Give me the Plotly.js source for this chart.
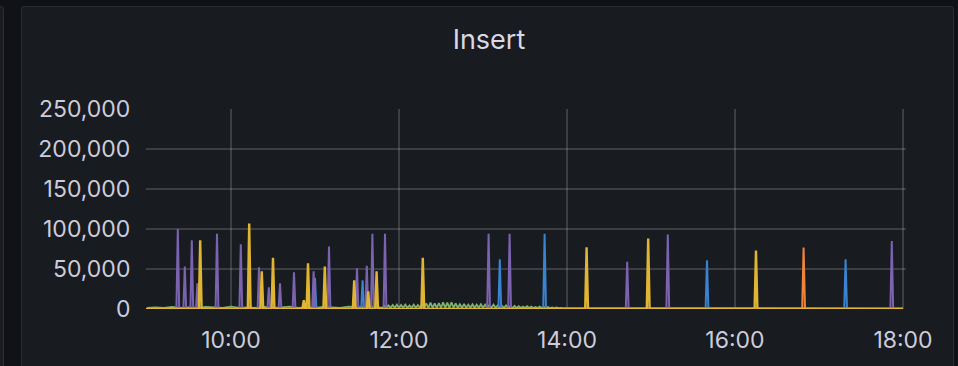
<!DOCTYPE html>
<html>
<head>
<meta charset="utf-8">
<script src="https://cdn.plot.ly/plotly-3.0.1.min.js"></script>
<style>
  html, body { margin: 0; padding: 0; background: #111217; width: 958px; height: 366px; overflow: hidden; }
  .panel { position: absolute; background: #181b1f; border: 1px solid rgba(204,204,220,0.10); border-radius: 4px; }
  #chart { position: absolute; left: 0; top: 0; width: 958px; height: 366px; }
</style>
</head>
<body>
<div class="panel" style="left:-30px; top:6px; width:32px; height:420px;"></div>
<div class="panel" style="left:21px; top:6px; width:931px; height:420px;"></div>
<div id="chart"></div>
<script>
// ---- data ----
const day = "2024-01-01";
const seriesStart = "08:59";
const seriesEnd = "18:00";

const purpleTimes  = ["09:22","09:27","09:32","09:36","09:50","10:07","10:20","10:27","10:35","10:45","10:59","11:10","11:30","11:37","11:41","11:50","13:04","13:19","14:43","15:12","17:52"];
const purpleValues = [100000, 53000, 86000, 32000, 94000, 81000, 52000, 27000, 32000, 46000, 47000, 78000, 51000, 54000, 94000, 94000, 94000, 94000, 59000, 93000, 85000];

const yellowTimes  = ["09:38","10:13","10:22","10:30","10:52","10:55","11:07","11:28","11:38","11:44","12:17","14:14","14:58","16:15"];
const yellowValues = [86000, 107000, 47000, 64000, 11000, 57000, 53000, 36000, 22000, 47000, 64000, 77000, 88000, 73000];

const blueTimes  = ["11:00","11:34","13:12","13:44","15:40","17:19"];
const blueValues = [39000, 36000, 62000, 94000, 61000, 62000];

const orangeTimes  = ["16:49"];
const orangeValues = [77000];

// green: low background series
const greenEarlyStart = "09:00";   // 6-minute samples
const greenEarlyValues = [1500,2000,1500,2500,1500,2000,1500,2500,2000,1500,3000,1500,2000,1500,2500,1500,2000,3000,1500,2000,1500,2500,2000,1500,3000,2000,2500,3000];
const greenMidStart = "11:48";     // 90-second samples
const greenMidValues = [
  1500,4000,1500,4500,1500,5000,1500,5500,1500,5000,1500,5500,1500,4500,1500,5500,1500,5000,1500,6000,
  1500,7000,1500,8000,1500,7000,1500,7500,1500,8500,1500,8000,1500,8500,1500,7000,1500,6000,1500,6500,
  1500,5500,1500,6000,1500,5500,1500,6000,1500,5500,1500,5000,1500,5500,1500,4500,1500,4000,1500,4500,
  1200,3500,1200,4000,1200,3500,1200,3000,1200,3500,1200,3000,1200,2500,1200,3000,1200,2500,1200,2500,
  1000,2000,1000,2000,1000,1500,1000];
const greenLateStart = "14:00";    // 10-minute samples
const greenLateValues = [1000,1200,800,1000,1500,900,1000,1200,800,1000,1300,900,1000,1100,800,1200,1000,900,1300,1000,800,1100,1000,1200,900];

const yTickVals = [0, 50000, 100000, 150000, 200000, 250000];

// ---- helpers ----
function toMin(hm) { const p = hm.split(":").map(Number); return p[0]*60 + p[1] + (p[2]||0)/60; }
function fmt(m) {
  const totalSec = Math.round(m*60);
  const h = Math.floor(totalSec/3600), mi = Math.floor((totalSec%3600)/60), s = totalSec%60;
  const pad = n => String(n).padStart(2,"0");
  return day + " " + pad(h) + ":" + pad(mi) + ":" + pad(s);
}
function spikeSeries(times, values) {
  const xs = [fmt(toMin(seriesStart))], ys = [0];
  times.forEach((t, i) => {
    const m = toMin(t);
    xs.push(fmt(m-1), fmt(m), fmt(m+1));
    ys.push(0, values[i], 0);
  });
  xs.push(fmt(toMin(seriesEnd))); ys.push(0);
  return {x: xs, y: ys};
}
function sampled(start, stepMin, values) {
  const m0 = toMin(start);
  return {x: values.map((v,i) => fmt(m0 + i*stepMin)), y: values.slice()};
}

const gE = sampled(greenEarlyStart, 6, greenEarlyValues);
const gM = sampled(greenMidStart, 1.5, greenMidValues);
const gL = sampled(greenLateStart, 10, greenLateValues);
const green = {x: gE.x.concat(gM.x, gL.x), y: gE.y.concat(gM.y, gL.y)};

function trace(d, color, fill, w) {
  return {x: d.x, y: d.y, type: "scatter", mode: "lines",
    line: {color: color, width: w, shape: "linear"},
    fill: "tozeroy", fillcolor: fill, hoverinfo: "skip", cliponaxis: false};
}

const data = [
  trace(green, "#7EB26D", "rgba(126,178,109,0.12)", 1.8),
  trace(spikeSeries(orangeTimes, orangeValues), "#EF843C", "rgba(239,132,60,0.12)", 2),
  trace(spikeSeries(blueTimes, blueValues), "#3b82d0", "rgba(31,120,193,0.12)", 2),
  trace(spikeSeries(purpleTimes, purpleValues), "#7b63b0", "rgba(112,93,160,0.12)", 2),
  trace(spikeSeries(yellowTimes, yellowValues), "#E0B534", "rgba(234,184,57,0.12)", 2.4)
];

const tickFont = {family: "Inter, 'Open Sans', sans-serif", size: 23, color: "#ccccdc"};
const layout = {
  width: 958, height: 366,
  margin: {l: 146, r: 52, t: 109, b: 57, pad: 0},
  paper_bgcolor: "rgba(0,0,0,0)",
  plot_bgcolor: "rgba(0,0,0,0)",
  showlegend: false,
  hovermode: false,
  title: {text: "Insert", x: 0.5104, xref: "container", xanchor: "center",
          y: 0.892, yref: "container", yanchor: "middle",
          font: {family: "Inter, 'Open Sans', sans-serif", size: 27, color: "#d8d9e4"}},
  xaxis: {
    type: "date",
    range: [day + " 08:59:17", day + " 18:02:09"],
    tickformat: "%H:%M",
    dtick: 7200000,
    tick0: day + " 10:00",
    showgrid: true, gridcolor: "rgba(204,204,220,0.2)", gridwidth: 1.6,
    zeroline: false, showline: false,
    ticks: "outside", ticklen: 10, tickcolor: "rgba(0,0,0,0)",
    tickfont: tickFont, fixedrange: true
  },
  yaxis: {
    range: [0, 250000],
    tickvals: yTickVals,
    tickformat: ",d",
    showgrid: true, gridcolor: "rgba(204,204,220,0.2)", gridwidth: 1.6,
    zeroline: false, showline: false,
    ticks: "outside", ticklen: 10, tickcolor: "rgba(0,0,0,0)",
    tickfont: tickFont, fixedrange: true
  },
  separators: ".,"
};

Plotly.newPlot("chart", data, layout, {displayModeBar: false, staticPlot: true});
</script>
</body>
</html>
